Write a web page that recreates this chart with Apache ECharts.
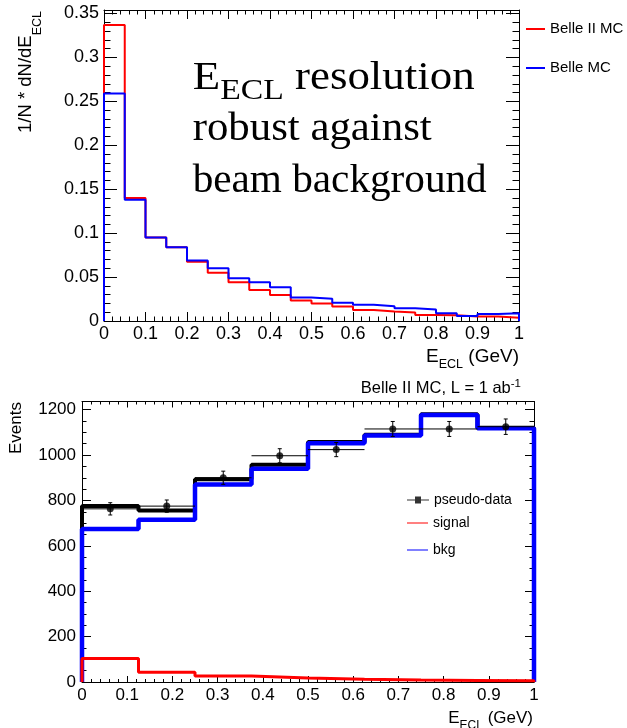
<!DOCTYPE html>
<html><head><meta charset="utf-8">
<script src="https://cdn.jsdelivr.net/npm/echarts@6/dist/echarts.min.js"></script>
<style>html,body{margin:0;padding:0;background:#fff}#c{width:627px;height:728px}</style>
</head><body><div id="c"></div>
<script>
// ---------- data: upper panel (normalised E_ECL) ----------
const topBinEdges = [0,0.05,0.1,0.15,0.2,0.25,0.3,0.35,0.4,0.45,0.5,0.55,0.6,0.65,0.7,0.75,0.8,0.85,0.9,0.95,1];
const belle2MC = [0.337,0.140,0.095,0.084,0.0675,0.055,0.044,0.0353,0.0295,0.0233,0.020,0.0165,0.0126,0.0107,0.0096,0.0069,0.0065,0.005,0.005,0.0038];
const belleMC  = [0.259,0.138,0.095,0.084,0.069,0.060,0.0486,0.044,0.0383,0.0268,0.0253,0.0207,0.0184,0.0169,0.0146,0.013,0.0088,0.0057,0.008,0.0088];
const topXTickLabels = [0,0.1,0.2,0.3,0.4,0.5,0.6,0.7,0.8,0.9,1];
const topYTickLabels = [0,0.05,0.1,0.15,0.2,0.25,0.3,0.35];

// ---------- data: lower panel (fit to pseudo-data) ----------
const bottomBinEdges = [0,0.125,0.25,0.375,0.5,0.625,0.75,0.875,1];
const totalFit = [776,756,893,957,1058,1090,1180,1120];
const bkg      = [674,715,870,940,1052,1086,1177,1118];
const signal   = [104,43,26,18,12,9,7,5];
const dataCenters = [0.0625,0.1875,0.3125,0.4375,0.5625,0.6875,0.8125,0.9375];
const pseudoData  = [763,775,900,997,1024,1115,1115,1125];
const pseudoErr   = [27,27,29,31,31,33,33,34];
const botXTickLabels = [0,0.1,0.2,0.3,0.4,0.5,0.6,0.7,0.8,0.9,1];
const botYTickLabels = [0,200,400,600,800,1000,1200];

const SANS = '"Liberation Sans", Arial, sans-serif';
const SERIF = '"Liberation Serif", "Times New Roman", serif';

function histPoints(edges, vals) {
  const pts = [[edges[0], 0]];
  for (let i = 0; i < vals.length; i++) {
    pts.push([edges[i], vals[i]], [edges[i + 1], vals[i]]);
  }
  pts.push([edges[edges.length - 1], 0]);
  return pts;
}

// text helpers (sub/superscripts)
const cv = document.createElement('canvas').getContext('2d');
function tw(t, s, fam) { cv.font = s + 'px ' + fam; return cv.measureText(t).width; }
function midOff(s, fam) {
  cv.font = s + 'px ' + fam; cv.textBaseline = 'alphabetic';
  const m = cv.measureText('Hg');
  return (m.fontBoundingBoxAscent - m.fontBoundingBoxDescent) / 2;
}
function textRun(parts, fam, x, y, align, rot, targetW) {
  const total = parts.reduce((a, p) => a + tw(p.t, p.s, fam), 0);
  let cx = align === 'right' ? -total : 0;
  const children = parts.map(p => {
    const el = {
      type: 'text', x: cx, y: (p.dy || 0) - midOff(p.s, fam),
      style: { text: p.t, fontSize: p.s, fontFamily: fam, fill: '#000',
               align: 'left', verticalAlign: 'middle', textAlign: 'left', textVerticalAlign: 'middle' }
    };
    cx += tw(p.t, p.s, fam);
    return el;
  });
  const sx = targetW ? targetW / total : 1;
  return { type: 'group', x: x, y: y, rotation: rot || 0, scaleX: sx, silent: true, children: children };
}

const axisCommon = (labelSize, margin, tickLen, minorLen, split, showLabel, customVals) => ({
  type: 'value',
  axisLine: { show: true, onZero: false, lineStyle: { color: '#000', width: 1 } },
  axisTick: { show: true, inside: true, length: tickLen, lineStyle: { color: '#000', width: 1 } },
  minorTick: { show: true, splitNumber: split, length: minorLen, lineStyle: { color: '#000', width: 1 } },
  splitLine: { show: false },
  axisLabel: { show: showLabel, fontSize: labelSize, fontFamily: SANS, color: '#000', margin: margin,
               customValues: customVals, showMaxLabel: true, hideOverlap: false,
               formatter: v => String(v) }
});

const chart = echarts.init(document.getElementById('c'), null, { renderer: 'canvas' });

const errHalf = bottomBinEdges.slice(1).map((e, i) => (e - bottomBinEdges[i]) / 2);

const option = {
  animation: false,
  backgroundColor: '#fff',
  grid: [
    { left: 104, top: 10, width: 415, height: 311, containLabel: false },
    { left: 82, top: 401.5, width: 452, height: 280.5, containLabel: false }
  ],
  xAxis: [
    Object.assign(axisCommon(18, 4, 9, 4.5, 5, true, topXTickLabels), { gridIndex: 0, min: 0, max: 1, interval: 0.1, position: 'bottom' }),
    Object.assign(axisCommon(18, 4, 9, 4.5, 5, false, topXTickLabels), { gridIndex: 0, min: 0, max: 1, interval: 0.1, position: 'top' }),
    Object.assign(axisCommon(17, 5, 6, 3, 5, true, botXTickLabels), { gridIndex: 1, min: 0, max: 1, interval: 0.1, position: 'bottom' }),
    Object.assign(axisCommon(17, 5, 6, 3, 5, false, botXTickLabels), { gridIndex: 1, min: 0, max: 1, interval: 0.1, position: 'top' })
  ],
  yAxis: [
    Object.assign(axisCommon(18, 5, 13, 6.5, 5, true, topYTickLabels), { gridIndex: 0, min: 0, max: 0.354, interval: 0.05, position: 'left' }),
    Object.assign(axisCommon(18, 5, 13, 6.5, 5, false, topYTickLabels), { gridIndex: 0, min: 0, max: 0.354, interval: 0.05, position: 'right' }),
    Object.assign(axisCommon(17, 6, 9, 4.5, 4, true, botYTickLabels), { gridIndex: 1, min: 0, max: 1236, interval: 200, position: 'left' }),
    Object.assign(axisCommon(17, 6, 9, 4.5, 4, false, botYTickLabels), { gridIndex: 1, min: 0, max: 1236, interval: 200, position: 'right' })
  ],
  legend: [
    { data: ['Belle II MC', 'Belle MC'], orient: 'vertical', left: 526, top: 21.5, padding: 0, itemWidth: 19, itemHeight: 2,
      icon: 'rect', itemGap: 24, textStyle: { fontSize: 15, fontFamily: SANS, color: '#000' }, selectedMode: false },
    { data: [{ name: 'pseudo-data', icon: 'path://M0,3 L8,3 L8,0 L14,0 L14,3 L22,3 L22,4 L14,4 L14,7 L8,7 L8,4 L0,4 Z' }],
      orient: 'vertical', left: 407, top: 493, padding: 0, itemWidth: 22, itemHeight: 7,
      textStyle: { fontSize: 14, fontFamily: SANS, color: '#000' }, selectedMode: false },
    { data: ['signal', 'bkg'], orient: 'vertical', left: 407, top: 516, padding: 0, itemWidth: 21, itemHeight: 1, icon: 'rect',
      itemGap: 13, textStyle: { fontSize: 14, fontFamily: SANS, color: '#000' }, selectedMode: false }
  ],
  series: [
    { name: 'Belle II MC', type: 'line', xAxisIndex: 0, yAxisIndex: 0, data: histPoints(topBinEdges, belle2MC),
      symbol: 'none', clip: false, color: '#ff0000', lineStyle: { color: '#ff0000', width: 2 }, z: 3 },
    { name: 'Belle MC', type: 'line', xAxisIndex: 0, yAxisIndex: 0, data: histPoints(topBinEdges, belleMC),
      symbol: 'none', clip: false, color: '#0000ff', lineStyle: { color: '#0000ff', width: 2 }, z: 4 },
    { name: 'total', type: 'line', xAxisIndex: 2, yAxisIndex: 2, data: histPoints(bottomBinEdges, totalFit),
      symbol: 'none', clip: false, color: '#000', lineStyle: { color: '#000', width: 4 }, z: 3 },
    { name: 'bkg', type: 'line', xAxisIndex: 2, yAxisIndex: 2, data: histPoints(bottomBinEdges, bkg),
      symbol: 'none', clip: false, color: '#0000ff', lineStyle: { color: '#0000ff', width: 4.5 }, z: 4 },
    { name: 'signal', type: 'line', xAxisIndex: 2, yAxisIndex: 2, data: histPoints(bottomBinEdges, signal),
      symbol: 'none', clip: false, color: '#ff0000', lineStyle: { color: '#ff0000', width: 3 }, z: 5 },
    { name: 'pseudo-data-err', type: 'custom', xAxisIndex: 2, yAxisIndex: 2, z: 6,
      data: dataCenters.map((x, i) => [x, pseudoData[i], pseudoErr[i], errHalf[i]]),
      renderItem: function (params, api) {
        const x = api.value(0), y = api.value(1), e = api.value(2), hw = api.value(3);
        const l = api.coord([x - hw, y]), r = api.coord([x + hw, y]);
        const t = api.coord([x, y + e]), b = api.coord([x, y - e]);
        const st = { stroke: '#000', lineWidth: 1 };
        return { type: 'group', children: [
          { type: 'line', shape: { x1: l[0], y1: l[1], x2: r[0], y2: r[1] }, style: st },
          { type: 'line', shape: { x1: t[0], y1: t[1], x2: b[0], y2: b[1] }, style: st },
          { type: 'line', shape: { x1: t[0] - 2, y1: t[1], x2: t[0] + 2, y2: t[1] }, style: st },
          { type: 'line', shape: { x1: b[0] - 2, y1: b[1], x2: b[0] + 2, y2: b[1] }, style: st }
        ] };
      } },
    { name: 'pseudo-data', type: 'scatter', xAxisIndex: 2, yAxisIndex: 2, z: 7,
      data: dataCenters.map((x, i) => [x, pseudoData[i]]), symbol: 'circle', symbolSize: 7,
      color: '#000', itemStyle: { color: '#000' } }
  ],
  graphic: [
    textRun([{ t: 'E', s: 40 }, { t: 'ECL', s: 30, dy: 9.4 }, { t: ' resolution', s: 40 }], SERIF, 192.7, 92.3, 'left', 0, 282),
    textRun([{ t: 'robust against', s: 40 }], SERIF, 192.7, 142.7, 'left', 0, 239),
    textRun([{ t: 'beam background', s: 40 }], SERIF, 192.7, 195, 'left', 0, 294),
    textRun([{ t: '1/N * dN/dE', s: 18.5 }, { t: 'ECL', s: 12.5, dy: 9.5 }], SANS, 32, 11, 'right', Math.PI / 2),
    textRun([{ t: 'E', s: 19 }, { t: 'ECL', s: 12.5, dy: 6 }, { t: ' (GeV)', s: 19 }], SANS, 519, 363, 'right'),
    textRun([{ t: 'Belle II MC, L = 1 ab', s: 16.5 }, { t: '-1', s: 11.5, dy: -6 }], SANS, 521, 394, 'right'),
    textRun([{ t: 'Events', s: 17 }], SANS, 22, 402, 'right', Math.PI / 2),
    textRun([{ t: 'E', s: 17 }, { t: 'ECL', s: 12, dy: 6 }, { t: ' (GeV)', s: 17 }], SANS, 533, 724, 'right')
  ]
};
chart.setOption(option);
</script>
</body></html>
